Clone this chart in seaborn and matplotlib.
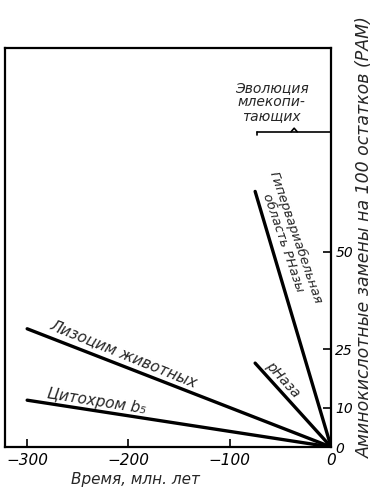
import matplotlib
matplotlib.use("Agg")
import matplotlib.pyplot as plt
import pandas as pd
import seaborn as sns

# protein, start of the line (time in Myr, PAM); every line ends at (0, 0)
proteins = ["Цитохром b₅", "Лизоцим животных", "рНаза", "Гипервариабельная\nобласть РНазы"]
start_time = [-300, -300, -75, -75]
start_pam = [12, 30.3, 21.5, 65.5]
end_time = [0, 0, 0, 0]
end_pam = [0, 0, 0, 0]

x_ticks = [-300, -200, -100, 0]
y_ticks = [0, 10, 25, 50]

mammal_span = [-73, 0]
mammal_level = 80.8
mammal_text = "Эволюция\nмлекопи-\nтающих"

rows = []
for name, t0, p0, t1, p1 in zip(proteins, start_time, start_pam, end_time, end_pam):
    rows.append({"protein": name, "time": t0, "pam": p0})
    rows.append({"protein": name, "time": t1, "pam": p1})
df = pd.DataFrame(rows)

sns.set_theme(style="ticks")
plt.rcParams["font.family"] = ["DejaVu Sans"]
plt.rcParams["font.style"] = "italic"

fig = plt.figure(figsize=(3.75, 4.88), dpi=100)
ax = fig.add_axes([0.013, 0.084, 0.870, 0.818])

sns.lineplot(data=df, x="time", y="pam", units="protein", estimator=None,
             color="black", linewidth=2.4, ax=ax, legend=False)

ax.set_xlim(-322, 0)
ax.set_ylim(0, 102.3)
ax.set_xticks(x_ticks)
ax.set_yticks(y_ticks)
ax.yaxis.tick_right()
ax.tick_params(axis="both", direction="in", length=6, width=1.2, colors="black")
ax.tick_params(axis="x", pad=4, labelsize=11)
ax.tick_params(axis="y", pad=3, labelsize=10)
for spine in ax.spines.values():
    spine.set_visible(True)
    spine.set_color("black")
    spine.set_linewidth(1.6)

ax.set_xlabel("Время, млн. лет", fontsize=11)
ax.xaxis.set_label_coords(0.40, -0.062)
ax.yaxis.set_label_position("right")
ax.set_ylabel("Аминокислотные замены на 100 остатков (РАМ)", fontsize=12.5,
              rotation=90, va="center", ha="center")
ax.yaxis.set_label_coords(1.104, 0.526)

# labels along the lines
ax.text(-231, 11.6, proteins[0], rotation=-9, ha="center", va="center",
        rotation_mode="anchor", fontsize=11)
ax.text(-205, 24.0, proteins[1], rotation=-22, ha="center", va="center",
        rotation_mode="anchor", fontsize=11)
ax.text(-48, 17.2, proteins[2], rotation=-48, ha="center", va="center",
        rotation_mode="anchor", fontsize=10)
ax.text(-41, 53, proteins[3], rotation=-71, ha="center", va="center",
        rotation_mode="anchor", fontsize=9.5, linespacing=1.0)

# mammal evolution bracket
ax.plot(mammal_span, [mammal_level, mammal_level], color="black", linewidth=1.2)
ax.plot([mammal_span[0], mammal_span[0]], [mammal_level, mammal_level - 0.8],
        color="black", linewidth=1.2)
mid = (mammal_span[0] + mammal_span[1]) / 2
ax.plot([mid - 3, mid, mid + 3], [mammal_level, mammal_level + 0.9, mammal_level],
        color="black", linewidth=1.2)
ax.text(mid - 22, mammal_level + 7.5, mammal_text, ha="center", va="center",
        fontsize=10, linespacing=1.0)

fig.savefig("out.png", dpi=100)
